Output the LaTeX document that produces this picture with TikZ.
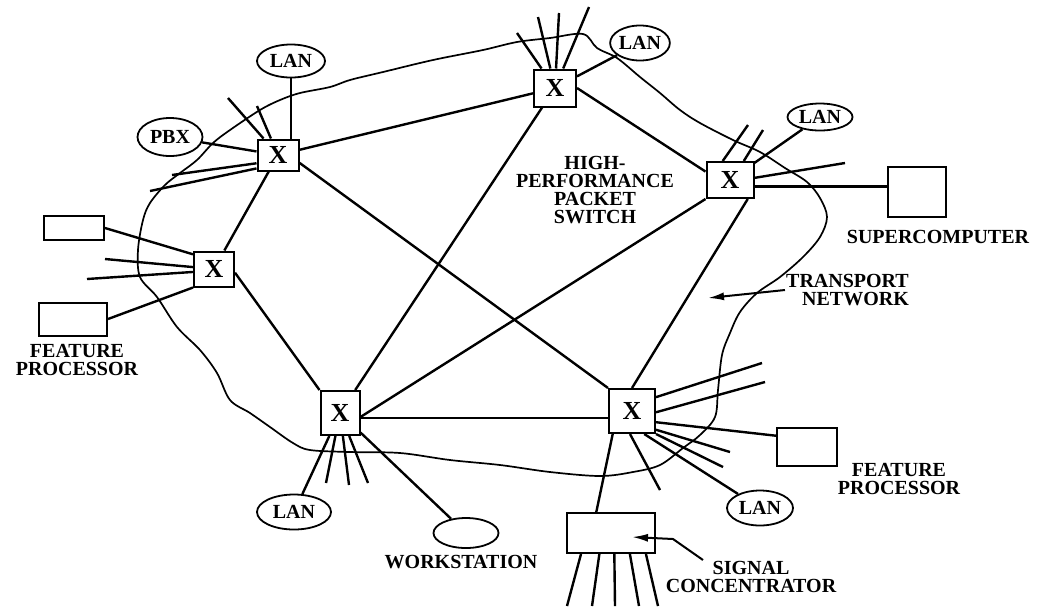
\documentclass[tikz,border=0pt]{standalone}
\usepackage{fontspec}
\setmainfont{Liberation Serif}
\usetikzlibrary{shapes.geometric, arrows.meta}

\tikzset{
  sw/.style={draw, fill=white, line width=1pt, inner sep=0pt, minimum width=21pt, minimum height=18pt, font=\fontsize{13}{13}\selectfont\bfseries},
  lan/.style={ellipse, draw, fill=white, line width=0.9pt, inner sep=0pt, font=\fontsize{10}{10}\selectfont\bfseries},
  dev/.style={draw, fill=white, line width=1pt, inner sep=0pt},
  txt/.style={align=center, inner sep=0pt, font=\fontsize{10}{9}\selectfont\bfseries},
  net/.style={line width=0.85pt},
  ptr/.style={-{Latex[length=8pt,width=4pt]}, line width=1pt}
}

\begin{document}
\begin{tikzpicture}[x=0.5pt, y=-0.5pt, line width=1.2pt]
\useasboundingbox (0,0) rectangle (1038,607);

\draw[net] plot[smooth cycle, tension=0.55] coordinates {
  (350,80) (383,72) (433,60) (483,50) (517,42) (550,38) (583,34) (597,48)
  (617,58) (640,77) (660,93) (680,110) (700,123) (733,140) (760,152) (785,168)
  (807,182) (820,198) (827,217) (820,237) (803,257) (780,277) (757,293) (740,312)
  (730,333) (722,355) (718,390) (715,417) (700,435) (683,448) (660,465) (633,472)
  (600,476) (550,472) (500,465) (450,460) (400,453) (350,452) (310,450) (293,443)
  (270,427) (250,413) (230,400) (217,373) (200,350) (177,327) (157,297) (140,277)
  (138,250) (143,220) (150,203) (165,185) (180,173) (197,160) (213,143) (230,130)
  (260,110) (280,100) (300,93) (330,87)};

\node[sw, minimum width=20.5pt, minimum height=15.5pt] (s1) at (278,155) {X};
\node[sw, minimum height=18.5pt] (s2) at (555,88) {X};
\node[sw, minimum width=23.5pt] (s3) at (730,180) {X};
\node[sw, minimum width=20pt, minimum height=17.5pt] (s4) at (214,269) {X};
\node[sw, minimum width=19.5pt, minimum height=22pt] (s5) at (340,413) {X};
\node[sw, minimum width=23pt, minimum height=22pt] (s6) at (632,411) {X};

\node[lan, minimum width=34pt, minimum height=16.5pt] (lan1) at (291,61) {LAN};
\node[lan, minimum width=32.5pt, minimum height=19pt] (pbx) at (170,137) {PBX};
\node[lan, minimum width=29.5pt, minimum height=17.5pt] (lan2) at (640,43) {LAN};
\node[lan, minimum width=32.5pt, minimum height=13.5pt] (lan3) at (820,117) {LAN};
\node[lan, minimum width=37pt, minimum height=17.5pt] (lan4) at (294,512) {LAN};
\node[lan, minimum width=32.5pt, minimum height=15pt] (ws) at (466,533) {};
\node[lan, minimum width=33pt, minimum height=17.5pt] (lan5) at (760,508) {LAN};

\node[dev, minimum width=30pt, minimum height=12pt] (fp1) at (74,228) {};
\node[dev, minimum width=34pt, minimum height=16.5pt] (fp2) at (73,319) {};
\node[dev, minimum width=29pt, minimum height=25pt] (sc) at (917,192) {};
\node[dev, minimum width=30pt, minimum height=19pt] (fp3) at (807,447) {};
\node[dev, minimum width=44pt, minimum height=20pt] (conc) at (611,533) {};

\node[txt] (hps) at (595,190) {HIGH-\\PERFORMANCE\\PACKET\\SWITCH};
\node[txt] (sct) at (938,237) {SUPERCOMPUTER};
\node[txt, align=right, anchor=east] (tn) at (910,290) {TRANSPORT\\NETWORK};
\node[txt] (fpl1) at (77,360) {FEATURE\\PROCESSOR};
\node[txt] (fpl2) at (899,479) {FEATURE\\PROCESSOR};
\node[txt] (sgl) at (751,577) {SIGNAL\\CONCENTRATOR};
\node[txt] (wsl) at (461,562) {WORKSTATION};

\draw (s1) -- (s2);
\draw (s1) -- (s4);
\draw (s1.-20) -- (s6.north west);
\draw (s2.east) -- (s3.161);
\draw (s2) -- (s5);
\draw (s3.south west) -- (s5.-11);
\draw (s3.-47) -- (s6.north);
\draw (s4.-10) -- (s5.north west);
\draw (s5.-14) -- (s5.-14 -| s6.west);

\draw (lan1) -- (lan1 |- s1.north);
\draw (pbx) -- (s1);
\draw (lan2) -- (s2);
\draw (lan3) -- (s3);
\draw (s3.-15) -- (s3.-15 -| sc.west);
\draw (fp1.east) -- (s4.145);
\draw (fp2.east) -- (s4.south west);
\draw (lan4) -- (s5);
\draw (ws) -- (s5);
\draw (s6.-25) -- (fp3.160);
\draw (s6.-62) -- (lan5);
\draw (s6.-130) -- (conc.125);

\foreach \n/\x/\y in {c1a/228/98, c1b/257/106, c1c/172/175, c1d/150/191,
  c2a/517/33, c2b/538/17, c2c/559/13, c2d/589/7,
  c3a/748/125, c3b/763/130, c3c/845/163,
  c4a/105/259, c4b/87/279,
  c5a/326/483, c5b/349/485, c5c/368/483,
  c6a/762/363, c6b/765/382, c6c/730/452, c6d/723/467, c6e/660/490}
  \coordinate (\n) at (\x,\y);

\foreach \p/\q in {c1a/s1, c1b/s1, c1c/s1.201, c1d/s1.212,
  c2a/s2, c2b/s2, c2c/s2, c2d/s2,
  c3a/s3.111, c3b/s3.54, c3c/s3.5,
  c4a/s4, c4b/s4.188,
  c5a/s5, c5b/s5, c5c/s5,
  c6a/s6.30, c6b/s6.-3, c6c/s6.-38, c6d/s6.south east, c6e/s6.-95}
  \draw (\q) -- (\p);

\foreach \a/\x [count=\i] in {215/567, 241/592, 279/615, 312/639, 329/658}
  {\coordinate (cc\i) at (\x,606);
   \draw (conc.\a) -- (cc\i);}

\coordinate (tnp) at (708,298);
\draw[ptr] (tn.west) -- (tnp);

\coordinate (sg1) at (703,560);
\coordinate (sg2) at (673,539);
\coordinate (sg3) at (632,537);
\draw[ptr] (sg1) -- (sg2) -- (sg3);
\end{tikzpicture}
\end{document}
